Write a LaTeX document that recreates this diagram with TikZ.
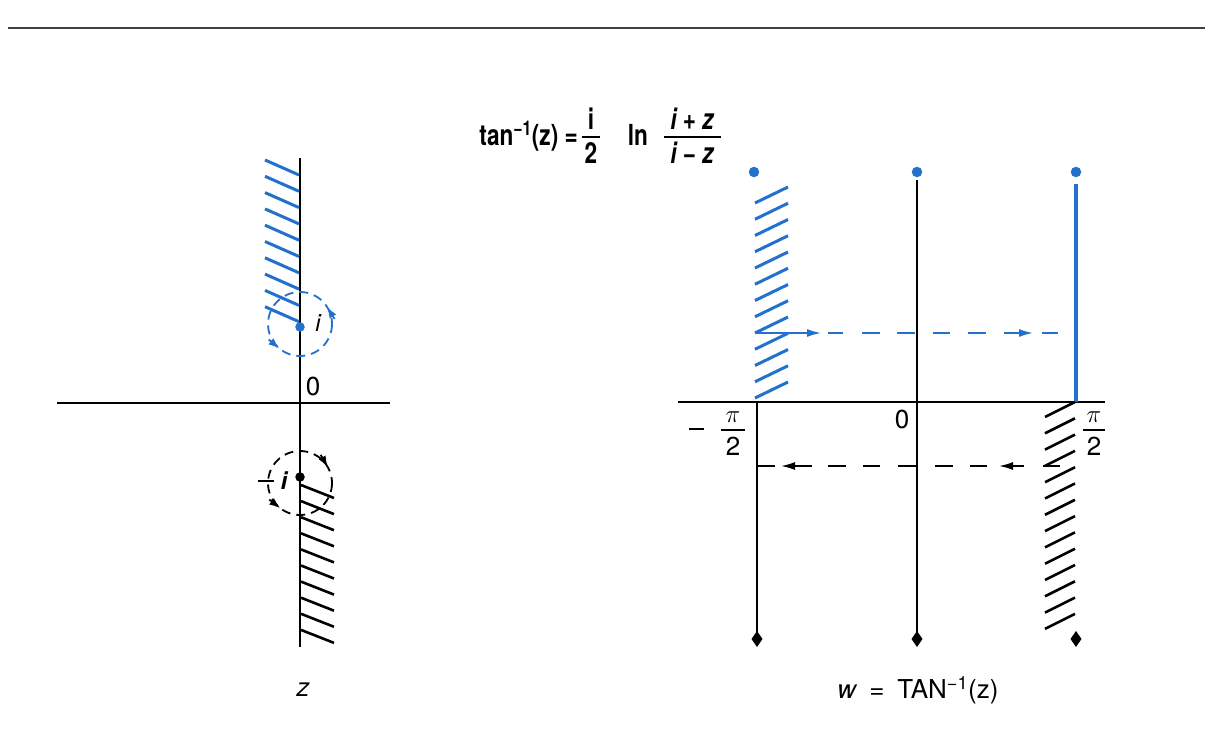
\documentclass[tikz,border=0pt]{standalone}
\usepackage{fontspec}
\setmainfont{TeX Gyre Heros}
\usepackage{graphicx}
\usetikzlibrary{arrows.meta}
\definecolor{cblue}{RGB}{35,112,205}
\begin{document}
\begin{tikzpicture}[x=1pt,y=-1pt,
  hatchb/.style={cblue,line width=3pt},
  hatchk/.style={black,line width=2.6pt},
  axis/.style={black,line width=1.4pt},
  lbl/.style={font=\fontsize{26}{26}\selectfont,inner sep=0pt},
  frm/.style={font=\bfseries\fontsize{29}{29}\selectfont,inner sep=0pt,anchor=base},
  dcirc/.style={line width=1.8pt,dash pattern=on 9pt off 6pt},
  tipA/.style={-{Latex[length=14pt,width=8pt]}},
  tipC/.style={line width=1.8pt,-{Latex[length=11pt,width=8pt]}},
  bdot/.style={circle,fill=cblue,inner sep=0pt,minimum size=10.5pt}
]
\useasboundingbox (0,0) rectangle (1211,742);
\fill[white] (0,0) rectangle (1211,742);
% top rule
\draw[line width=2.5pt,black!75] (8,28) -- (1205,28);

% formula
\node[frm,anchor=base east] (f1) at (578,145) {\scalebox{0.78}[1]{tan\textsuperscript{−1}(z) =}};
\node[frm] (f2n) at (591,129) {\scalebox{0.78}[1]{i}};
\node[frm] (f2d) at (591,163) {\scalebox{0.78}[1]{2}};
\draw[line width=1.8pt] (582,137) -- (600,137);
\node[frm] (f3) at (638,145) {\scalebox{0.78}[1]{ln}};
\node[frm] (f4n) at (692,129) {\scalebox{0.78}[1]{\itshape i \upshape+ \itshape z}};
\node[frm] (f4d) at (692,163) {\scalebox{0.78}[1]{\itshape i \upshape− \itshape z}};
\draw[line width=1.8pt] (664,137) -- (721,137);

% ===== left plane =====
\draw[axis] (57,403) -- (390,403);
\draw[axis] (300,158) -- (300,647);
\foreach \k in {0,...,9}
  \draw[hatchb] ({265},{160+16.3*\k}) -- ({299},{175+16.3*\k});
\foreach \k in {0,...,9}
  \draw[hatchk] ({301},{485+16.1*\k}) -- ({334},{498+16.1*\k});
% i
\node[bdot,minimum size=9.5pt] (pi) at (300,327) {};
\node[lbl,font=\itshape\fontsize{24}{24}\selectfont] (li) at (318,323) {i};
\draw[cblue,dcirc] (300,324) circle (32);
\coordinate (ia1) at (334.5,318.9); \coordinate (ia2) at (327.1,307.0);
\coordinate (ib1) at (268.7,339.5); \coordinate (ib2) at (279.4,348.5);
\draw[cblue,tipC] (ia1) -- (ia2);
\draw[cblue,tipC] (ib1) -- (ib2);
% -i
\node[circle,fill=black,inner sep=0pt,minimum size=9.5pt] (pmi) at (300,477) {};
\draw[line width=2.4pt] (258,481) -- (274,481);
\node[lbl,font=\bfseries\itshape\fontsize{24}{24}\selectfont] (lmi2) at (284,481) {i};
\draw[black,dcirc] (300,483) circle (32);
\coordinate (ja1) at (320.7,454.9); \coordinate (ja2) at (327.7,467.0);
\coordinate (jb1) at (269.3,499.6); \coordinate (jb2) at (280.3,508.2);
\draw[black,tipC] (ja1) -- (ja2);
\draw[black,tipC] (jb1) -- (jb2);
\node[lbl] (l0a) at (313,386) {0};
\node[lbl,font=\itshape\fontsize{26}{26}\selectfont] (lz) at (303,690) {z};

% ===== right plane =====
\draw[axis] (678,402) -- (1105,402);
\draw[axis] (917,180) -- (917,637);
\draw[black,line width=2.6pt] (757,402) -- (757,637);
\draw[cblue,line width=4pt] (1076,184) -- (1076,402);
\foreach \k in {0,...,12}
  \draw[hatchb] ({755},{203+16.25*\k}) -- ({788},{187+16.25*\k});
\foreach \k in {0,...,13}
  \draw[hatchk] ({1045},{417+16.3*\k}) -- ({1075},{402+16.3*\k});
\node[bdot] (t1) at (754,172) {};
\node[bdot] (t2) at (917,172) {};
\node[bdot] (t3) at (1076,172) {};
\foreach \xx in {757,917,1076}
  \fill (\xx,631) -- (\xx+5.5,639) -- (\xx,647) -- (\xx-5.5,639) -- cycle;

% blue dashed arrow line
\draw[cblue,line width=1.6pt,tipA] (757,333) -- (821,333);
\foreach \a/\b in {828/843,862/880,897/915,933/950,968/986,1042/1058}
  \draw[cblue,line width=1.6pt] (\a,333) -- (\b,333);
\draw[cblue,line width=1.6pt,tipA] (1004,333) -- (1033,333);

% black dashed arrow line
\draw[black,line width=1.6pt] (757,466) -- (775,466);
\draw[black,line width=1.6pt,tipA] (812,466) -- (781,466);
\foreach \a/\b in {828/846,863/880,898/917,935/953,970/987,1043/1060}
  \draw[black,line width=1.6pt] (\a,466) -- (\b,466);
\draw[black,line width=1.6pt,tipA] (1024,466) -- (999,466);

% labels
\node[lbl] (l0b) at (902,419) {0};
\draw[line width=1.5pt] (689,429) -- (704,429);
\node[lbl] (lpa) at (733,417) {$\pi$};
\draw[line width=1.3pt] (721,430) -- (745,430);
\node[lbl] (l2a) at (733,446) {2};
\node[lbl] (lpb) at (1094,417) {$\pi$};
\draw[line width=1.3pt] (1083,430) -- (1105,430);
\node[lbl] (l2b) at (1094,446) {2};
\node[lbl] (lw) at (918,690) {\itshape w\upshape\enspace=\enspace TAN\textsuperscript{−1}(z)};
\end{tikzpicture}
\end{document}
